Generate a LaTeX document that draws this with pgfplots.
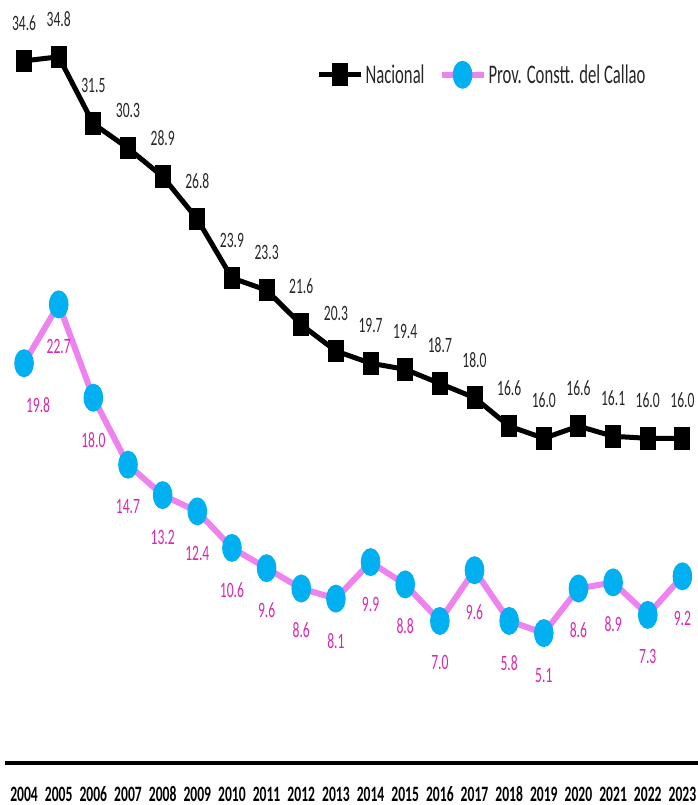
\documentclass[border=0pt]{standalone}
\usepackage{fontspec}
\setmainfont[FakeStretch=0.62]{Carlito}
\usepackage{pgfplots}
\usepackage{pgfplotstable}
\pgfplotsset{compat=1.18}
\definecolor{natline}{RGB}{0,0,0}
\definecolor{natlab}{RGB}{38,38,38}
\definecolor{calline}{RGB}{238,130,238}
\definecolor{calmark}{RGB}{0,176,240}
\definecolor{callab}{RGB}{214,40,176}

\pgfplotstableread{
x y lab
2004 34.6 34.6
2005 34.8 34.8
2006 31.5 31.5
2007 30.3 30.3
2008 28.9 28.9
2009 26.8 26.8
2010 23.9 23.9
2011 23.3 23.3
2012 21.6 21.6
2013 20.3 20.3
2014 19.7 19.7
2015 19.4 19.4
2016 18.7 18.7
2017 18.0 18.0
2018 16.6 16.6
2019 16.0 16.0
2020 16.6 16.6
2021 16.1 16.1
2022 16.0 16.0
2023 16.0 16.0
}\nacional

\pgfplotstableread{
x y lab
2004 19.7 19.8
2005 22.6 22.7
2006 18.0 18.0
2007 14.7 14.7
2008 13.2 13.2
2009 12.4 12.4
2010 10.6 10.6
2011 9.6 9.6
2012 8.6 8.6
2013 8.1 8.1
2014 9.9 9.9
2015 8.8 8.8
2016 7.0 7.0
2017 9.5 9.6
2018 7.0 5.8
2019 6.4 5.1
2020 8.6 8.6
2021 8.9 8.9
2022 7.3 7.3
2023 9.2 9.2
}\callao

\begin{document}
\begin{tikzpicture}
\begin{axis}[
  scale only axis,
  width=693bp, height=763bp,
  xmin=2003.45, xmax=2023.45,
  ymin=0, ymax=37.6,
  clip=false,
  axis y line=none,
  axis x line*=bottom,
  x axis line style={line width=4.5bp, black, -},
  major tick length=0pt,
  xtick={2004,2005,...,2023},
  xticklabels={2004,2005,2006,2007,2008,2009,2010,2011,2012,2013,2014,2015,2016,2017,2018,2019,2020,2021,2022,2023},
  xticklabel style={anchor=base, yshift=-38bp, inner sep=0pt, font=\fontsize{22}{24}\selectfont\bfseries, text=black},
  legend style={at={(0.445,0.902)}, anchor=west, draw=none, fill=none,
    font=\fontsize{27}{30}\selectfont, text=natlab,
    /tikz/every even column/.append style={column sep=12bp}},
  legend columns=2,
  legend image code/.code={\draw[mark repeat=2,mark phase=2,#1] plot coordinates {(0bp,0bp) (21bp,0bp) (42bp,0bp)};},
  nodes near coords,
  point meta=explicit symbolic,
]
\addplot[natline, line width=5bp, mark=square*, mark size=5.5bp,
  mark options={yscale=1.6, solid, fill=natline, draw=natline},
  every node near coord/.append style={anchor=center, yshift=38bp, text=natlab, font=\fontsize{22}{24}\selectfont}]
  table[x=x, y=y, meta=lab] {\nacional};
\addlegendentry{Nacional}
\addplot[calline, line width=6bp, mark=*, mark size=6.8bp,
  mark options={yscale=1.6, solid, fill=calmark, draw=calmark},
  every node near coord/.append style={anchor=center, yshift=-42bp, text=callab, font=\fontsize{22}{24}\selectfont},
  coordinate style/.condition={x==2004}{xshift=14bp}]
  table[x=x, y=y, meta=lab] {\callao};
\addlegendentry{Prov. Constt. del Callao}
\end{axis}
\pgfresetboundingbox
\path ([xshift=-5bp,yshift=-42bp]current axis.south west) rectangle (current axis.north east);
\end{tikzpicture}
\end{document}
